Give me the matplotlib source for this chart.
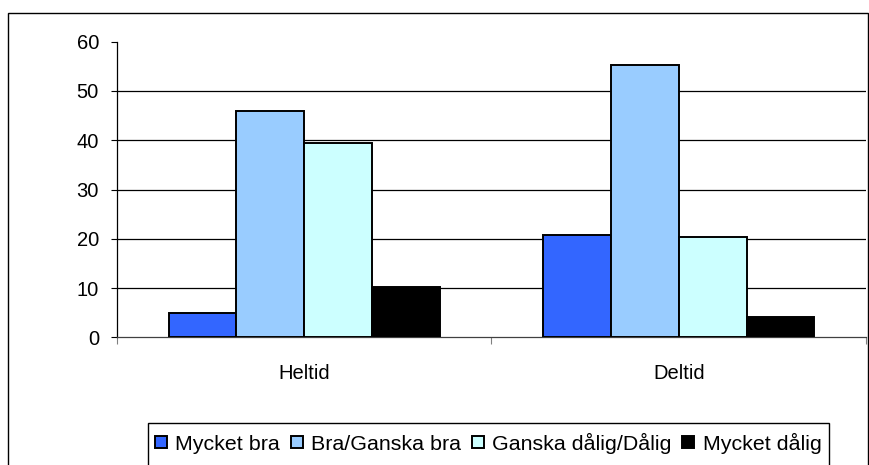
import matplotlib

matplotlib.use("Agg")
import matplotlib.pyplot as plt
import numpy as np
from matplotlib.patches import Rectangle

plt.rcParams["font.family"] = ["Liberation Sans", "DejaVu Sans"]

# data
categories = ["Heltid", "Deltid"]
series_names = ["Mycket bra", "Bra/Ganska bra", "Ganska dålig/Dålig", "Mycket dålig"]
mycket_bra = [4.9, 20.8]
bra_ganska_bra = [45.9, 55.3]
ganska_dalig = [39.4, 20.4]
mycket_dalig = [10.3, 4.2]
y_ticks = [0, 10, 20, 30, 40, 50, 60]

series = [mycket_bra, bra_ganska_bra, ganska_dalig, mycket_dalig]
colors = ["#3366FF", "#99CCFF", "#CCFFFF", "#000000"]

W, H = 870, 465
fig = plt.figure(figsize=(W / 100, H / 100), dpi=100)
fig.patch.set_facecolor("white")

# outer chart frame, bottom edge runs off the picture
fig.patches.append(
    Rectangle((8 / W, 1 - 470 / H), 860 / W, 457 / H, transform=fig.transFigure,
              fill=False, edgecolor="black", linewidth=1.0)
)

ax = fig.add_axes([117 / W, 1 - 337.3 / H, (866 - 117) / W, (337.3 - 41.7) / H])

x = np.arange(len(categories))
bar_w = 0.181
for i, (vals, col, name) in enumerate(zip(series, colors, series_names)):
    ax.bar(x + (i - 1.5) * bar_w, vals, width=bar_w, color=col,
           edgecolor="black", linewidth=1.4, label=name, zorder=3)

ax.set_xlim(-0.5, len(categories) - 0.5)
ax.set_ylim(0, 60)
ax.set_yticks(y_ticks)
ax.set_yticklabels([str(v) for v in y_ticks], fontsize=14.5)
for v in y_ticks[1:-1]:
    ax.axhline(v, color="black", linewidth=0.9, zorder=1)

ax.set_xticks(x)
ax.set_xticklabels(categories, fontsize=14.5)
ax.tick_params(axis="x", which="major", length=0, pad=19)
ax.set_xticks(np.arange(-0.5, len(categories)), minor=True)
ax.tick_params(axis="x", which="minor", length=5, width=0.8, color="#808080", direction="out")
ax.tick_params(axis="y", length=4, width=0.8, pad=9, direction="out")

for side in ["top", "right"]:
    ax.spines[side].set_visible(False)
ax.spines["left"].set_linewidth(0.9)
ax.spines["bottom"].set_linewidth(0.9)
ax.spines["bottom"].set_color("#404040")

# legend box drawn by hand, its bottom also runs off the picture
fig.patches.append(
    Rectangle((148 / W, 1 - 470 / H), (829 - 148) / W, 47 / H, transform=fig.transFigure,
              fill=False, edgecolor="black", linewidth=1.0)
)
handles, labels = ax.get_legend_handles_labels()
fig.legend(handles, labels, loc="center left", bbox_to_anchor=(155 / W, 1 - 443 / H),
           ncol=4, frameon=False, fontsize=15.4, handlelength=0.55, handleheight=0.55,
           handletextpad=0.4, columnspacing=0.5, borderpad=0, borderaxespad=0)

fig.savefig("out.png", dpi=100)
